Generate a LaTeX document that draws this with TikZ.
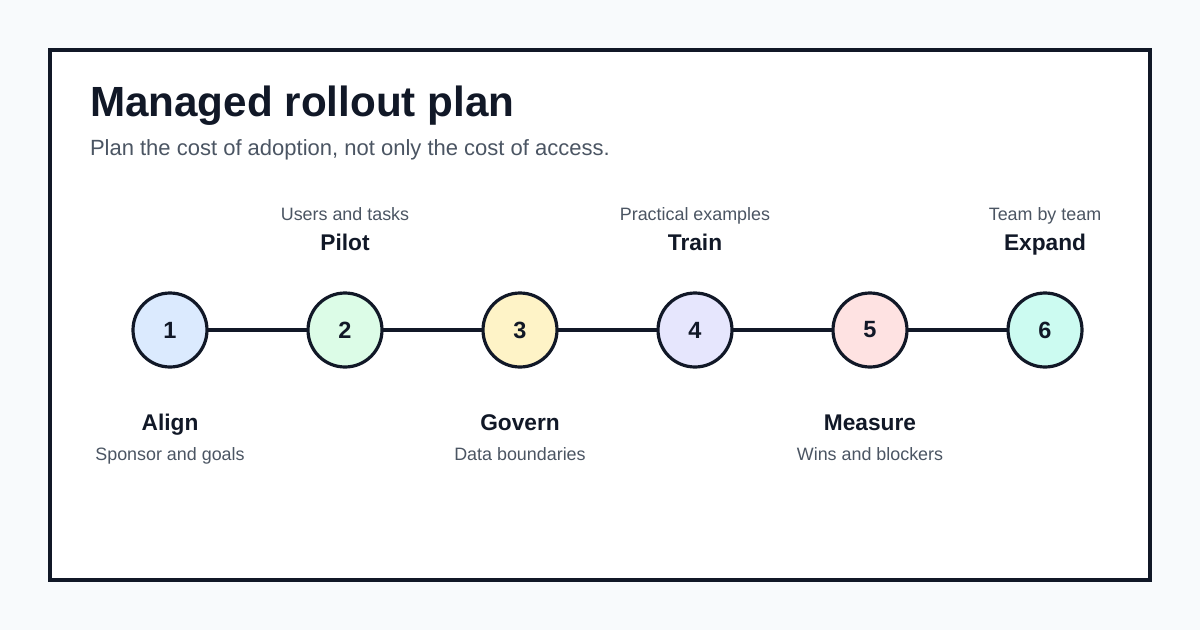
\documentclass[tikz,border=0pt]{standalone}
\usepackage{fontspec}
\setmainfont{Liberation Sans}
\usepackage{xcolor}
\usetikzlibrary{positioning}

\definecolor{ink}{HTML}{111827}
\definecolor{muted}{HTML}{4B5563}
\definecolor{pagebg}{HTML}{F8FAFC}
\definecolor{fillA}{HTML}{DBEAFE}
\definecolor{fillB}{HTML}{DCFCE7}
\definecolor{fillC}{HTML}{FEF3C7}
\definecolor{fillD}{HTML}{E6E6FD}
\definecolor{fillE}{HTML}{FEE2E2}
\definecolor{fillF}{HTML}{CCFBF1}

\begin{document}
\begin{tikzpicture}[
  x=1pt,y=-1pt,
  every node/.style={inner sep=0pt,outer sep=0pt,text=ink},
  stage/.style={circle,draw=ink,line width=3.2pt,minimum size=74pt,
                font=\fontsize{23.5}{28}\selectfont\bfseries},
  link/.style={draw=ink,line width=4pt},
  stepname/.style={anchor=base,font=\fontsize{22.7}{27}\selectfont\bfseries},
  stepnote/.style={anchor=base,text=muted,font=\fontsize{17.9}{21}\selectfont}
]
\useasboundingbox[fill=pagebg] (0,0) rectangle (1200,630);
\draw[ink,fill=white,line width=3.5pt] (50,50) rectangle (1150,580);

\node[anchor=base west,font=\fontsize{42.2}{50}\selectfont\bfseries] (title)
  at (90,116) {Managed rollout plan};
\node[anchor=base west,text=muted,font=\fontsize{22}{26}\selectfont] (subtitle)
  at (90,155) {Plan the cost of adoption, not only the cost of access.};

% stages
\node[stage,fill=fillA] (s1) at (170,330) {1};
\node[stage,fill=fillB] (s2) at (345,330) {2};
\node[stage,fill=fillC] (s3) at (520,330) {3};
\node[stage,fill=fillD] (s4) at (695,330) {4};
\node[stage,fill=fillE] (s5) at (870,330) {5};
\node[stage,fill=fillF] (s6) at (1045,330) {6};

\draw[link] (s1) -- (s2);
\draw[link] (s2) -- (s3);
\draw[link] (s3) -- (s4);
\draw[link] (s4) -- (s5);
\draw[link] (s5) -- (s6);

% labels below
\node[stepname] (align) at (170,430) {Align};
\node[stepnote] (alignnote) at (170,460) {Sponsor and goals};
\node[stepname] (govern) at (520,430) {Govern};
\node[stepnote] (governnote) at (520,460) {Data boundaries};
\node[stepname] (measure) at (870,430) {Measure};
\node[stepnote] (measurenote) at (870,460) {Wins and blockers};

% labels above
\node[stepnote] (pilotnote) at (345,220) {Users and tasks};
\node[stepname] (pilot) at (345,250) {Pilot};
\node[stepnote] (trainnote) at (695,220) {Practical examples};
\node[stepname] (train) at (695,250) {Train};
\node[stepnote] (expandnote) at (1045,220) {Team by team};
\node[stepname] (expand) at (1045,250) {Expand};
\end{tikzpicture}
\end{document}
